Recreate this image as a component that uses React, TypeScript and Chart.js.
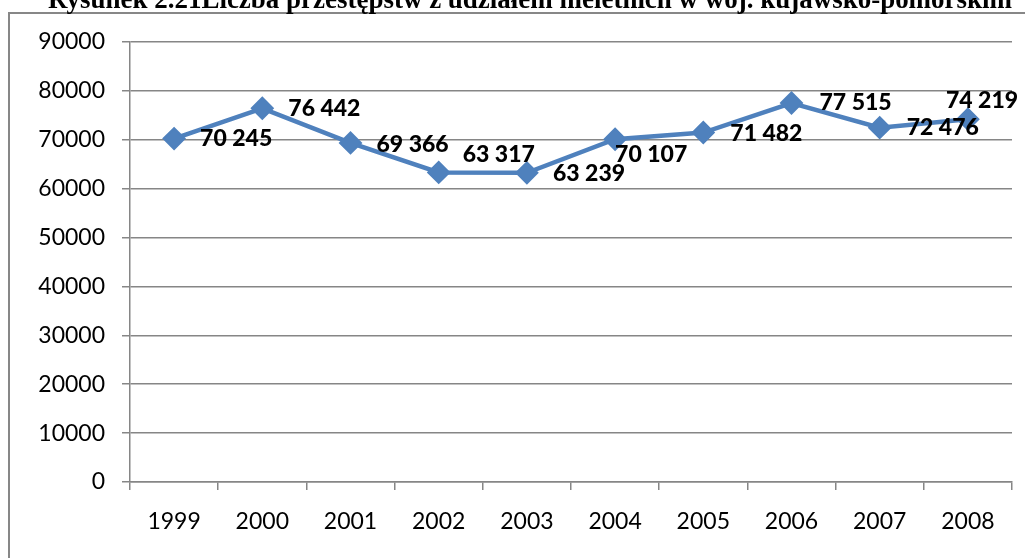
import React, { useEffect, useRef } from 'react';
import { Chart, registerables } from 'chart.js';

Chart.register(...registerables);

const titleText = 'Rysunek 2.21Liczba przestępstw z udziałem nieletnich w woj. kujawsko-pomorskim';
const years = ['1999', '2000', '2001', '2002', '2003', '2004', '2005', '2006', '2007', '2008'];
const offenses = [70245, 76442, 69366, 63317, 63239, 70107, 71482, 77515, 72476, 74219];
const yMin = 0;
const yMax = 90000;
const yStep = 10000;

const fmt = (v: number) => String(v).replace(/\B(?=(\d{3})+(?!\d))/g, ' ');

// label placement relative to each point: [left-edge dx, vertical-centre dy]
const labelPlacement: [number, number][] = [
  [26, 0], [26, 0], [26, 2], [24, -18], [26, 1], [0, 15], [27, 1], [28, 0], [27, 0], [-22, -19],
];

const GRID = '#868686';
const LINE = '#4F81BD';

const decorPlugin = {
  id: 'decor',
  beforeDraw(chart: any) {
    const ctx = chart.ctx as CanvasRenderingContext2D;
    ctx.save();
    ctx.fillStyle = '#ffffff';
    ctx.fillRect(0, 0, chart.width, chart.height);
    // frame
    ctx.strokeStyle = '#878787';
    ctx.lineWidth = 2;
    ctx.beginPath();
    ctx.moveTo(9, chart.height);
    ctx.lineTo(9, 13);
    ctx.lineTo(chart.width, 13);
    ctx.stroke();
    // title (clipped at top like the reference)
    ctx.font = 'bold 28px "Liberation Serif"';
    ctx.fillStyle = '#000';
    ctx.textBaseline = 'alphabetic';
    ctx.textAlign = 'left';
    const w = ctx.measureText(titleText).width;
    const target = 964;
    ctx.translate(48, 8);
    ctx.scale(target / w, 1);
    ctx.fillText(titleText, 0, 0);
    ctx.restore();
  },
  afterDatasetsDraw(chart: any) {
    const ctx = chart.ctx as CanvasRenderingContext2D;
    const meta = chart.getDatasetMeta(0);
    ctx.save();
    ctx.font = '900 23px Lato';
    ctx.fillStyle = '#000';
    ctx.textAlign = 'left';
    ctx.textBaseline = 'middle';
    meta.data.forEach((pt: any, i: number) => {
      const [dx, dy] = labelPlacement[i];
      ctx.fillText(fmt(offenses[i]), pt.x + dx, pt.y + dy);
    });
    ctx.restore();
  },
};

export default function App() {
  const ref = useRef<HTMLCanvasElement | null>(null);
  useEffect(() => {
    if (!ref.current) return;
    const chart = new Chart(ref.current, {
      type: 'line',
      data: {
        labels: years,
        datasets: [
          {
            data: offenses,
            borderColor: LINE,
            backgroundColor: LINE,
            borderWidth: 4.5,
            pointStyle: 'rectRot',
            pointRadius: 10.5,
            pointBorderWidth: 2,
            pointBackgroundColor: LINE,
            pointBorderColor: LINE,
            tension: 0,
            fill: false,
          },
        ],
      },
      options: {
        responsive: false,
        animation: false,
        events: [],
        layout: { padding: { top: 42, right: 13, bottom: 0, left: 0 } },
        plugins: {
          legend: { display: false },
          title: { display: false },
          tooltip: { enabled: false },
        },
        scales: {
          x: {
            type: 'category',
            offset: true,
            grid: {
              display: true,
              drawOnChartArea: false,
              drawTicks: true,
              tickLength: 8,
              color: GRID,
              lineWidth: 1.5,
              offset: true,
            },
            border: { display: true, color: GRID, width: 1.5 },
            ticks: {
              font: { family: 'Lato', size: 23 },
              color: '#000',
              padding: 18,
              maxRotation: 0,
              autoSkip: false,
            },
            afterFit: (s: any) => {
              s.height = 76;
            },
          },
          y: {
            type: 'linear',
            min: yMin,
            max: yMax,
            ticks: {
              stepSize: yStep,
              callback: (v: any) => String(v),
              font: { family: 'Lato', size: 23 },
              color: '#000',
              padding: 17,
            },
            grid: {
              color: GRID,
              lineWidth: 1.5,
              tickLength: 8,
              drawTicks: true,
            },
            border: { display: true, color: GRID, width: 1.5 },
            afterFit: (s: any) => {
              s.width = 130;
            },
          },
        },
      },
      plugins: [decorPlugin],
    });
    return () => chart.destroy();
  }, []);
  return (
    <div style={{ position: 'absolute', left: 0, top: 0, width: 1025, height: 558 }}>
      <canvas ref={ref} width={1025} height={558} style={{ display: 'block' }} />
    </div>
  );
}
